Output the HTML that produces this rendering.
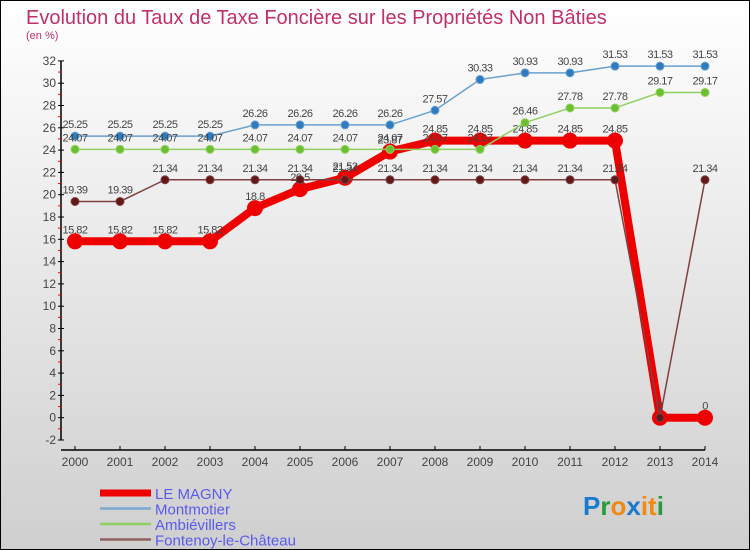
<!DOCTYPE html>
<html><head><meta charset="utf-8"><style>
html,body{margin:0;padding:0}
body{width:750px;height:550px;overflow:hidden;font-family:"Liberation Sans",sans-serif}
#wrap{position:absolute;left:0;top:0;width:748px;height:548px;border:1px solid #000;background:linear-gradient(#ffffff,#cfcfcf)}
</style></head><body>
<div id="wrap">
<svg id="chart" width="750" height="550" style="position:absolute;left:-1px;top:-1px">
<text x="26" y="24" font-size="20" fill="#c0306a">Evolution du Taux de Taxe Foncière sur les Propriétés Non Bâties</text>
<text x="26" y="39" font-size="11" fill="#c0306a">(en %)</text>
<g id="axes"></g><g id="series"></g><g id="legend"></g>
<text x="583" y="515" font-size="26" font-weight="bold"><tspan fill="#1a7ad0">P</tspan><tspan fill="#2a9a3a">r</tspan><tspan fill="#f08a10">o</tspan><tspan fill="#1a7ad0">x</tspan><tspan fill="#f08a10">it</tspan><tspan fill="#2a9a3a">i</tspan></text>
</svg>
</div>
<script>
const years=[2000,2001,2002,2003,2004,2005,2006,2007,2008,2009,2010,2011,2012,2013,2014];
const yTicks=[-2,0,2,4,6,8,10,12,14,16,18,20,22,24,26,28,30,32];
const leMagny=[15.82,15.82,15.82,15.82,18.8,20.5,21.52,23.87,24.85,24.85,24.85,24.85,24.85,0,0];
const montmotier=[25.25,25.25,25.25,25.25,26.26,26.26,26.26,26.26,27.57,30.33,30.93,30.93,31.53,31.53,31.53];
const ambievillers=[24.07,24.07,24.07,24.07,24.07,24.07,24.07,24.07,24.07,24.07,26.46,27.78,27.78,29.17,29.17];
const fontenoy=[19.39,19.39,21.34,21.34,21.34,21.34,21.34,21.34,21.34,21.34,21.34,21.34,21.34,0,21.34];
const NS="http://www.w3.org/2000/svg";
const xS=i=>75+i*45;
const yS=v=>417.7-v*11.15;
function mk(tag,attrs,parent){const e=document.createElementNS(NS,tag);for(const k in attrs)e.setAttribute(k,attrs[k]);parent.appendChild(e);return e;}
const ax=document.getElementById('axes');
let l=mk('line',{x1:61,y1:yS(32),x2:61,y2:yS(-2),stroke:'#000','stroke-width':1.5},ax);

l=mk('line',{x1:61,y1:450,x2:705,y2:450,stroke:'#000','stroke-width':1.5},ax);

yTicks.forEach(v=>{
 mk('line',{x1:58,y1:yS(v),x2:64,y2:yS(v),stroke:'#000'},ax);
 if(v<32)mk('line',{x1:58,y1:yS(v+1),x2:61,y2:yS(v+1),stroke:'#e00'},ax);
 const t=mk('text',{x:56,y:yS(v)+4,'font-size':12,fill:'#444','text-anchor':'end'},ax);t.textContent=v;
 
});
years.forEach((y,i)=>{
 mk('line',{x1:xS(i),y1:446,x2:xS(i),y2:450,stroke:'#000'},ax);
 const t=mk('text',{x:xS(i),y:466,'font-size':12,fill:'#444','text-anchor':'middle'},ax);t.textContent=y;
 
});
const sg=document.getElementById('series');
function draw(data,color,w,r,dot,name){
 const g=mk('g',{},sg);
 
 mk('polyline',{points:data.map((v,i)=>xS(i)+','+yS(v)).join(' '),fill:'none',stroke:color,'stroke-width':w,'stroke-linejoin':'round'},g);
 data.forEach((v,i)=>{
  const c=mk('circle',{cx:xS(i),cy:yS(v),r:r,fill:dot,stroke:color,'stroke-width':1},g);
  
  const t=mk('text',{x:xS(i),y:yS(v)-8,'font-size':11,fill:'#444','text-anchor':'middle','letter-spacing':'-0.5'},g);
  t.textContent=v;
 });
}
draw(leMagny,'#ee0000',8,7.5,'#ee0000','series-le-magny');
draw(montmotier,'#6aa0d0',1.5,4,'#2e7cc0','series-montmotier');
draw(ambievillers,'#90d060',1.5,4,'#6cc030','series-ambievillers');
draw(fontenoy,'#804040',1.5,4,'#601818','series-fontenoy');
const lg=document.getElementById('legend');
[['LE MAGNY','#ee0000',7],['Montmotier','#7aaad0',2.5],['Ambiévillers','#90d060',2.5],['Fontenoy-le-Château','#906060',2.5]].forEach((d,i)=>{
 const y=493+i*15.5;
 const g=mk('g',{},lg);
 
 mk('line',{x1:100,y1:y,x2:151,y2:y,stroke:d[1],'stroke-width':d[2]},g);
 const t=mk('text',{x:155,y:y+6,'font-size':15,fill:'#5a5aee'},g);t.textContent=d[0];
});
</script>
</body></html>
